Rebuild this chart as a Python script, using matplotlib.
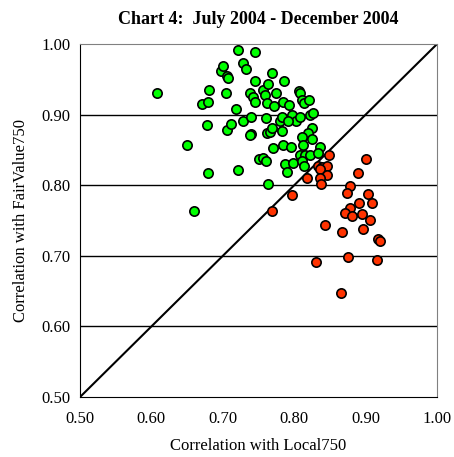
import matplotlib.pyplot as plt
import numpy as np

plt.rcParams['font.family'] = ['Liberation Serif', 'DejaVu Serif']

# points above the diagonal (green)
green_x = [0.608, 0.650, 0.660, 0.671, 0.679, 0.678, 0.679, 0.681, 0.697, 0.700,
           0.704, 0.706, 0.707, 0.706, 0.711, 0.718, 0.721, 0.721, 0.728, 0.732,
           0.728, 0.739, 0.739, 0.745, 0.745, 0.738, 0.742, 0.745, 0.751, 0.756,
           0.759, 0.763, 0.769, 0.775, 0.762, 0.772, 0.786, 0.784, 0.793, 0.807,
           0.808, 0.811, 0.814, 0.821, 0.797, 0.803, 0.808, 0.822, 0.826, 0.761,
           0.780, 0.783, 0.791, 0.762, 0.766, 0.769, 0.783, 0.825, 0.819, 0.811,
           0.825, 0.770, 0.784, 0.796, 0.812, 0.836, 0.756, 0.761, 0.787, 0.790,
           0.798, 0.808, 0.815, 0.822, 0.811, 0.814, 0.833, 0.763, 0.738]
green_y = [0.931, 0.857, 0.763, 0.915, 0.918, 0.885, 0.817, 0.935, 0.962, 0.969,
           0.931, 0.955, 0.952, 0.878, 0.887, 0.908, 0.992, 0.822, 0.973, 0.965,
           0.891, 0.897, 0.873, 0.989, 0.948, 0.931, 0.925, 0.918, 0.837, 0.935,
           0.928, 0.943, 0.959, 0.931, 0.916, 0.912, 0.948, 0.918, 0.914, 0.933,
           0.931, 0.921, 0.916, 0.921, 0.899, 0.891, 0.897, 0.899, 0.902, 0.895,
           0.891, 0.897, 0.891, 0.874, 0.875, 0.881, 0.877, 0.881, 0.874, 0.868,
           0.865, 0.853, 0.857, 0.854, 0.857, 0.854, 0.839, 0.834, 0.830, 0.819,
           0.831, 0.843, 0.843, 0.843, 0.834, 0.827, 0.846, 0.802, 0.871]

# points below the diagonal (red)
red_x = [0.849, 0.833, 0.839, 0.846, 0.836, 0.846, 0.818, 0.836, 0.838, 0.889,
         0.901, 0.878, 0.874, 0.903, 0.909, 0.891, 0.878, 0.871, 0.881, 0.895,
         0.906, 0.797, 0.769, 0.843, 0.867, 0.896, 0.917, 0.920, 0.831, 0.875,
         0.916, 0.866]
red_y = [0.843, 0.827, 0.826, 0.827, 0.823, 0.814, 0.810, 0.810, 0.802, 0.817,
         0.837, 0.799, 0.789, 0.788, 0.775, 0.775, 0.768, 0.761, 0.756, 0.759,
         0.751, 0.786, 0.763, 0.744, 0.734, 0.738, 0.724, 0.721, 0.691, 0.698,
         0.694, 0.647]

y_ticks = [0.50, 0.60, 0.70, 0.80, 0.90, 1.00]
x_ticks = [0.50, 0.60, 0.70, 0.80, 0.90, 1.00]

fig = plt.figure(figsize=(4.54, 4.57), dpi=100)
ax = fig.add_axes([0.176, 0.131, 0.787, 0.773])

for t in y_ticks[1:-1]:
    ax.axhline(t, color='black', lw=1.0, zorder=1)
ax.plot([0.5, 1.0], [0.5, 1.0], color='black', lw=1.5, zorder=2)

ax.scatter(green_x, green_y, s=45, c='#00ff00', edgecolors='black', linewidths=1.2, zorder=3)
ax.scatter(red_x, red_y, s=45, c='#ff3300', edgecolors='black', linewidths=1.2, zorder=3)

ax.set_xlim(0.5, 1.0)
ax.set_ylim(0.5, 1.0)
ax.set_xticks(x_ticks)
ax.set_yticks(y_ticks)
ax.set_xticklabels(['%.2f' % v for v in x_ticks])
ax.set_yticklabels(['%.2f' % v for v in y_ticks])
ax.tick_params(labelsize=12, length=0)
ax.tick_params(axis='x', pad=10)
ax.tick_params(axis='y', pad=7)

for s in ['top', 'right']:
    ax.spines[s].set_color('#808080')
for s in ['left', 'bottom']:
    ax.spines[s].set_color('black')

ax.set_xlabel('Correlation with Local750', fontsize=12, labelpad=8)
ax.set_ylabel('Correlation with FairValue750', fontsize=12, labelpad=9)
ax.set_title('Chart 4:  July 2004 - December 2004', fontsize=13, fontweight='bold', pad=14)

fig.savefig('out.png', dpi=100)
